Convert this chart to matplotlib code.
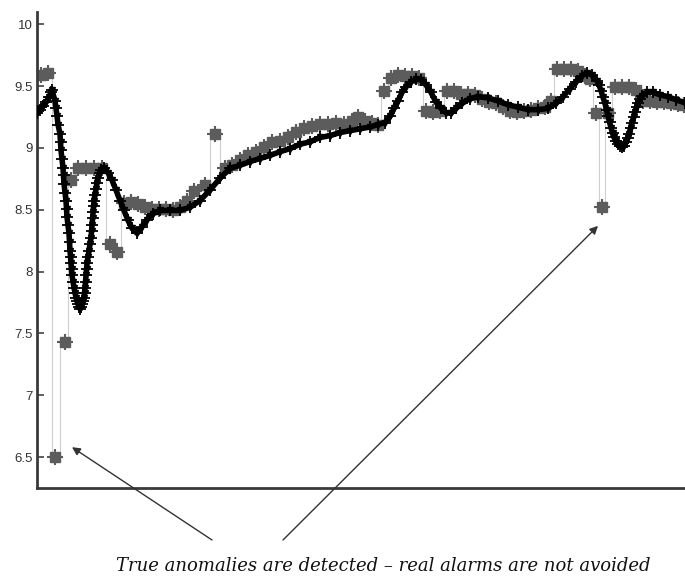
import matplotlib
matplotlib.use("Agg")
import matplotlib.pyplot as plt

# ---- data (sample index, value) ----
pred_t = [37, 40, 43, 46, 49, 51, 52, 55, 56, 57, 58, 60, 60.5, 61, 62, 63, 63.5, 64, 65, 66, 66.5, 67, 68,
          69, 69.5, 70, 70.5, 71, 71.5, 72, 73, 74, 75, 76, 77, 78, 79, 80,
          81, 82, 83, 84, 84.5, 85, 85.5, 86, 86.5, 87, 88, 89, 90, 91, 91.5, 92, 92.5, 93, 93.5, 94,
          95, 96, 97, 98, 99.5, 101, 104, 108, 112, 116, 120, 124, 128, 132, 137, 142, 147, 153,
          160, 170, 180, 190, 200, 210, 220, 230, 240, 250, 260, 270, 280, 290, 300, 310, 320, 330,
          340, 350, 360, 370, 378, 385, 390, 394, 398, 402, 406, 411, 416, 421, 426, 431, 436, 441,
          446, 451, 456, 462, 470, 478, 488, 498, 508, 518, 528, 538, 548, 556, 563, 570, 576, 582,
          587, 592, 597, 599, 601, 603, 605, 606.5, 608, 609.5, 611, 612.5, 614, 616, 618, 620, 622,
          624, 626, 627.5, 629, 630.5, 632, 633.5, 635, 636.5, 638, 640, 642, 647, 653, 660, 668, 676, 685]
pred_v = [9.28, 9.31, 9.34, 9.37, 9.41, 9.45, 9.47, 9.38, 9.32, 9.26, 9.19, 9.115, 9.05, 8.98, 8.91, 8.84,
          8.78, 8.71, 8.64, 8.575, 8.51, 8.44, 8.375,
          8.31, 8.24, 8.17, 8.12, 8.066, 8.02, 7.97, 7.92, 7.87, 7.83, 7.79, 7.76, 7.735, 7.71, 7.70,
          7.71, 7.735, 7.76, 7.79, 7.83, 7.87, 7.92, 7.97, 8.02, 8.066, 8.12, 8.17, 8.22, 8.275, 8.325,
          8.375, 8.43, 8.48, 8.53, 8.575,
          8.62, 8.67, 8.72, 8.76, 8.80, 8.82, 8.84, 8.80, 8.74, 8.66, 8.575, 8.495, 8.415, 8.35, 8.31,
          8.365, 8.42, 8.47,
          8.495, 8.495, 8.495, 8.52, 8.575, 8.66, 8.755, 8.835, 8.86, 8.89, 8.915, 8.94, 8.97, 8.995,
          9.03, 9.05, 9.085, 9.10,
          9.125, 9.14, 9.155, 9.17, 9.19, 9.205, 9.255, 9.32, 9.38, 9.45, 9.495, 9.535, 9.56, 9.55,
          9.51, 9.45, 9.37, 9.32,
          9.285, 9.28, 9.32, 9.36, 9.40, 9.415, 9.405, 9.38, 9.35, 9.33, 9.31, 9.31, 9.32, 9.36, 9.415,
          9.48, 9.535, 9.585,
          9.61, 9.59, 9.545, 9.51, 9.465, 9.41, 9.36, 9.31, 9.26, 9.21, 9.165, 9.12, 9.085, 9.06,
          9.035, 9.02, 9.01,
          9.02, 9.045, 9.08, 9.115, 9.16, 9.205, 9.25, 9.295, 9.33, 9.365, 9.395, 9.42, 9.45, 9.45,
          9.43, 9.415, 9.39, 9.365]

obs_t = [41, 48, 55, 65, 71, 78, 86, 94, 102, 110, 117, 124, 131, 138, 145, 152, 159, 166, 173, 180,
         187, 194, 205, 215, 225, 232, 240, 248, 256, 264, 272, 280, 288, 296, 304, 312, 320, 328, 336,
         344, 352, 358, 365, 372, 378, 384, 391, 398, 405, 412, 419, 426, 433, 440, 447, 454, 461, 468,
         475, 482, 489, 496, 503, 510, 517, 524, 531, 538, 545, 551, 557, 564, 571, 578, 585, 590, 596,
         602, 608, 615, 622, 629, 636, 643, 650, 657, 664, 671, 678, 684]
obs_v = [9.59, 9.61, 6.50, 7.43, 8.74, 8.84, 8.84, 8.84, 8.84, 8.22, 8.16, 8.555, 8.56, 8.55, 8.52,
         8.51, 8.51, 8.51, 8.50, 8.52, 8.575, 8.65, 8.70, 9.115, 8.84, 8.86, 8.90, 8.94, 8.97, 9.01,
         9.05, 9.06, 9.09, 9.13, 9.165, 9.18, 9.195, 9.195, 9.20, 9.195, 9.22, 9.25, 9.22, 9.20, 9.19,
         9.465, 9.57, 9.59, 9.585, 9.585, 9.57, 9.30, 9.29, 9.30, 9.465, 9.465, 9.44, 9.44, 9.425,
         9.40, 9.37, 9.36, 9.33, 9.30, 9.29, 9.30, 9.31, 9.32, 9.33, 9.38, 9.64, 9.64, 9.635, 9.62,
         9.58, 9.56, 9.285, 8.52, 9.28, 9.49, 9.49, 9.49, 9.47, 9.38, 9.38, 9.375, 9.37, 9.36, 9.355,
         9.35]

yticks = [6.5, 7, 7.5, 8, 8.5, 9, 9.5, 10]
ytick_labels = ["6.5", "7", "7.5", "8", "8.5", "9", "9.5", "10"]
caption = "True anomalies are detected \u2013 real alarms are not avoided"
arrow_targets = [(72, 6.58), (598, 8.37)]

# ---- figure ----
W, H = 685, 583
fig = plt.figure(figsize=(W / 100, H / 100), dpi=100)
ax = fig.add_axes([37 / W, 1 - 488 / H, (685 - 37) / W, (488 - 12) / H])

gray = "#5c5c5c"
ax.plot(obs_t, obs_v, drawstyle="steps-mid", color="#cfcfcf", lw=0.8, zorder=1)
ax.plot(obs_t, obs_v, ls="none", marker="s", ms=7, color=gray, mec=gray, zorder=2)
ax.plot(obs_t, obs_v, ls="none", marker="+", ms=11, mew=1.5, color=gray, zorder=2)

ax.plot(pred_t, pred_v, color="black", lw=4, zorder=3, solid_capstyle="round")
ax.plot(pred_t, pred_v, ls="none", marker="v", ms=5, color="black", zorder=4)
ax.plot(pred_t, pred_v, ls="none", marker="+", ms=8, mew=1.3, color="black", zorder=4)

ax.set_xlim(37, 685)
ax.set_ylim(6.25, 10.1)
ax.set_xticks([])
ax.set_yticks(yticks)
ax.set_yticklabels(ytick_labels, fontfamily="Liberation Sans", fontsize=9.5, color="#333333")
ax.tick_params(axis="y", direction="in", length=5, width=1.2, color="#444444", pad=3)
for s in ("top", "right"):
    ax.spines[s].set_visible(False)
for s in ("left", "bottom"):
    ax.spines[s].set_color("#3a3a3a")
    ax.spines[s].set_linewidth(2)

tails = [(212, H - 540), (283, H - 540)]
for target, tail in zip(arrow_targets, tails):
    ax.annotate("", xy=target, xycoords="data", xytext=tail, textcoords="figure pixels",
                arrowprops=dict(arrowstyle="-|>", color="#333333", lw=1.0,
                                mutation_scale=12, shrinkA=0, shrinkB=0),
                annotation_clip=False)

fig.text(383 / W, 1 - 566 / H, caption, ha="center", va="center",
         fontfamily="DejaVu Serif", fontstyle="italic", fontsize=13, color="#111111")

fig.savefig("out.png", dpi=100, facecolor="white")
